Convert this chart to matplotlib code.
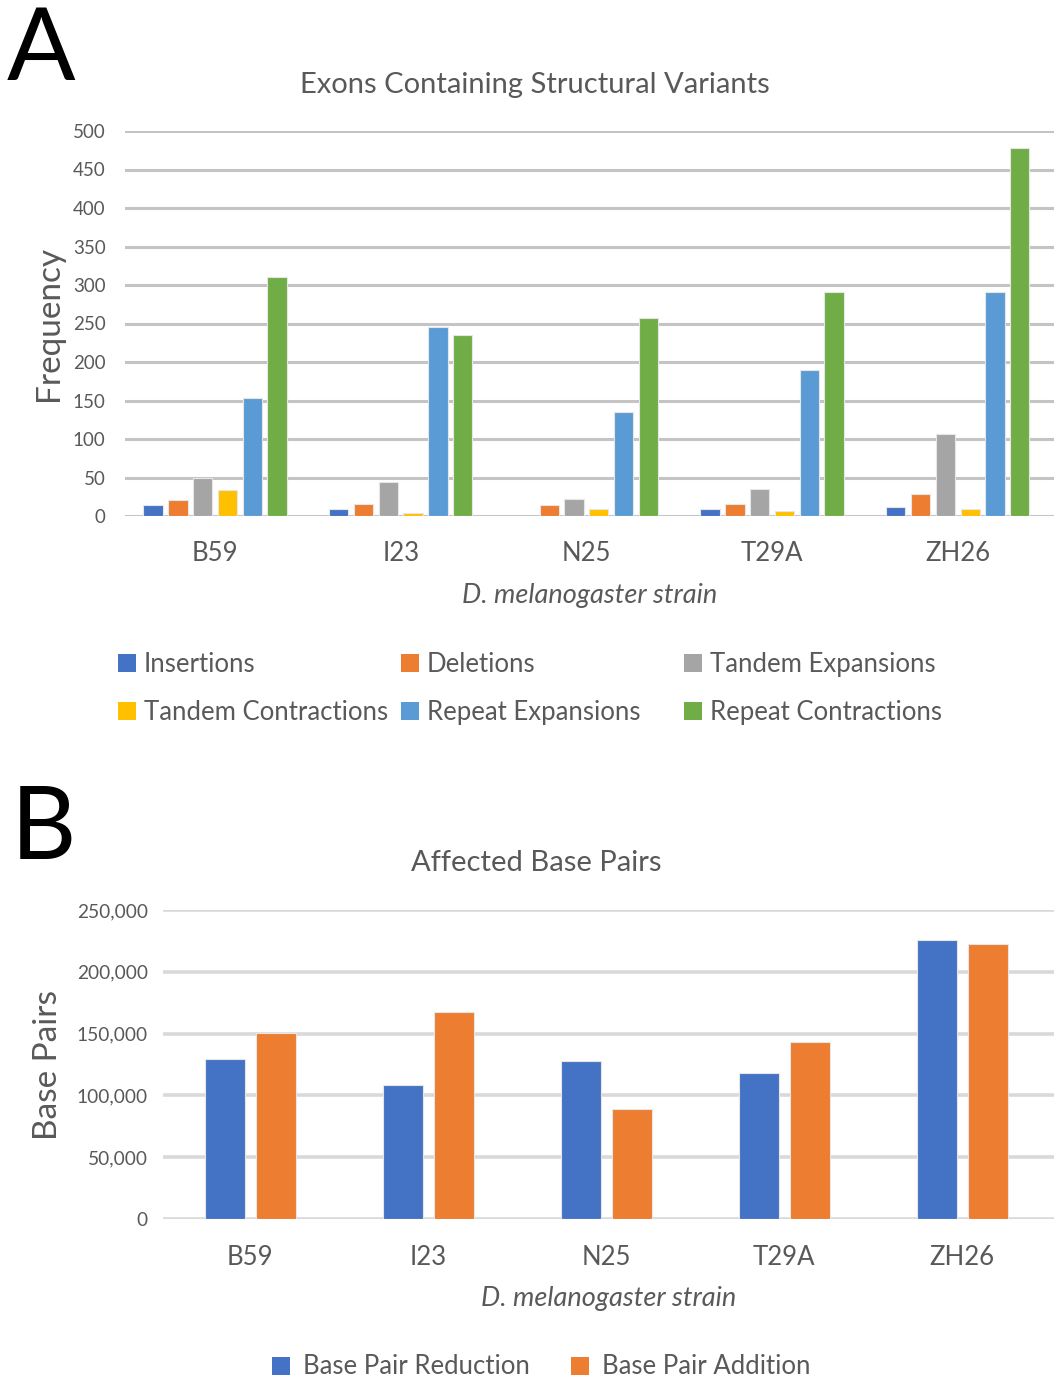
import matplotlib
matplotlib.use("Agg")
import matplotlib.pyplot as plt
from matplotlib.patches import Patch
from matplotlib.ticker import FuncFormatter
import numpy as np

# ---- data ----
strains = ["B59", "I23", "N25", "T29A", "ZH26"]

variant_types = ["Insertions", "Deletions", "Tandem Expansions",
                 "Tandem Contractions", "Repeat Expansions", "Repeat Contractions"]
insertions = [14, 9, 0, 9, 12]
deletions = [21, 16, 14, 15, 28]
tandem_expansions = [50, 44, 22, 35, 106]
tandem_contractions = [34, 4, 9, 6, 9]
repeat_expansions = [153, 245, 135, 190, 291]
repeat_contractions = [310, 235, 257, 291, 478]

bp_series = ["Base Pair Reduction", "Base Pair Addition"]
bp_reduction = [129500, 108500, 127500, 118500, 226000]
bp_addition = [150300, 167800, 89400, 143300, 222800]

# ---- style ----
FONT = ["Lato", "DejaVu Sans"]
plt.rcParams["font.family"] = FONT
TXT = "#595959"
GRID = "#C4C4C4"
colors6 = ["#4472C4", "#ED7D31", "#A5A5A5", "#FFC000", "#5B9BD5", "#70AD47"]
colors2 = ["#4472C4", "#ED7D31"]

W, H = 1054, 1381
fig = plt.figure(figsize=(W / 100, H / 100), dpi=100)


def px_axes(left, top, right, bottom):
    return fig.add_axes([left / W, 1 - bottom / H, (right - left) / W, (bottom - top) / H])


def style_axes(ax):
    for s in ax.spines.values():
        s.set_visible(False)
    ax.tick_params(axis="both", length=0, colors=TXT)
    ax.set_axisbelow(True)


# ---- panel A ----
axA = px_axes(125, 131, 1054, 516)
style_axes(axA)
x = np.arange(len(strains))
seriesA = [insertions, deletions, tandem_expansions,
           tandem_contractions, repeat_expansions, repeat_contractions]
pitch, bw = 0.1336, 0.104
for i, (vals, c) in enumerate(zip(seriesA, colors6)):
    axA.bar(x + (i - 2.5) * pitch, vals, width=bw, color=c,
            edgecolor="#E6E6E6", linewidth=0.8, zorder=3)
axA.set_xlim(-0.485, 4.518)
axA.set_ylim(0, 500)
axA.set_yticks(np.arange(0, 501, 50))
axA.yaxis.grid(True, color=GRID, linewidth=2.2, zorder=0)
axA.set_xticks(x)
axA.set_xticklabels(strains, fontsize=18.5, color=TXT)
axA.tick_params(axis="x", pad=18)
axA.tick_params(axis="y", labelsize=13.5, pad=14)
axA.set_ylabel("Frequency", fontsize=24, color=TXT, labelpad=6)
axA.set_xlabel("D. melanogaster strain", fontsize=19.5, color=TXT,
               style="italic", labelpad=12)
fig.text(535 / W, 1 - 85 / H, "Exons Containing Structural Variants",
         ha="center", va="center", fontsize=21, color=TXT)
fig.text(7 / W, 1 - 51 / H, "A", ha="left", va="center", fontsize=73, color="black")

# legend A: three fixed-width columns of two entries each
col_x = [118, 401, 684]
for col in range(3):
    items = [col, col + 3]
    handles = [Patch(facecolor=colors6[k], edgecolor="none") for k in items]
    labels = [variant_types[k] for k in items]
    fig.legend(handles, labels, loc="upper left",
               bbox_to_anchor=(col_x[col] / W, 1 - 652 / H),
               frameon=False, fontsize=18.5, labelcolor=TXT,
               handlelength=0.7, handleheight=0.7, handletextpad=0.3,
               labelspacing=0.9, borderaxespad=0, borderpad=0)

# ---- panel B ----
axB = px_axes(163, 910, 1054, 1219)
style_axes(axB)
for i, (vals, c) in enumerate(zip([bp_reduction, bp_addition], colors2)):
    axB.bar(x + (i - 0.5) * 0.2865, vals, width=0.225, color=c,
            edgecolor="#E6E6E6", linewidth=0.8, zorder=3)
axB.set_xlim(-0.489, 4.516)
axB.set_ylim(0, 250000)
axB.set_yticks(np.arange(0, 250001, 50000))
axB.yaxis.set_major_formatter(FuncFormatter(lambda v, p: f"{int(v):,}"))
axB.yaxis.grid(True, color="#D9D9D9", linewidth=2.6, zorder=0)
axB.set_xticks(x)
axB.set_xticklabels(strains, fontsize=18.5, color=TXT)
axB.tick_params(axis="x", pad=19)
axB.tick_params(axis="y", labelsize=13.8, pad=11)
axB.set_ylabel("Base Pairs", fontsize=24, color=TXT, labelpad=10)
axB.set_xlabel("D. melanogaster strain", fontsize=19.5, color=TXT,
               style="italic", labelpad=11)
fig.text(536 / W, 1 - 863 / H, "Affected Base Pairs",
         ha="center", va="center", fontsize=21, color=TXT)
fig.text(11 / W, 1 - 831 / H, "B", ha="left", va="center", fontsize=73, color="black")

handlesB = [Patch(facecolor=c, edgecolor="none") for c in colors2]
fig.legend(handlesB, bp_series, loc="center", ncol=2,
           bbox_to_anchor=(541 / W, 1 - 1367 / H),
           frameon=False, fontsize=18.5, labelcolor=TXT,
           handlelength=0.7, handleheight=0.7, handletextpad=0.5,
           columnspacing=1.6, borderaxespad=0, borderpad=0)

fig.savefig("out.png", dpi=100, facecolor="white")
